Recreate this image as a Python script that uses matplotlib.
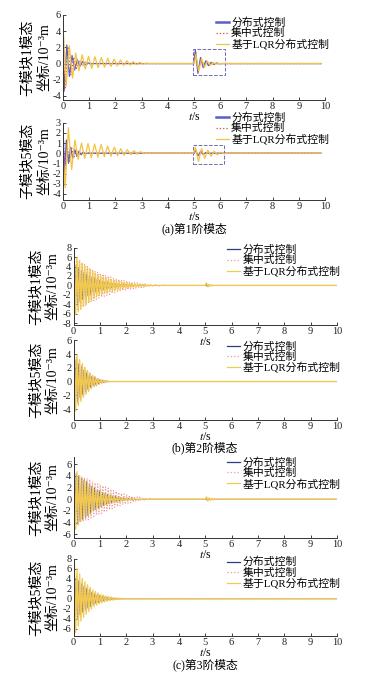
import numpy as np
import matplotlib
matplotlib.use('Agg')
import matplotlib.pyplot as plt
from matplotlib.patches import Rectangle

plt.rcParams['font.family'] = ['Liberation Serif', 'Noto Sans CJK SC', 'DejaVu Serif']
plt.rcParams['mathtext.fontset'] = 'stix'
plt.rcParams['axes.unicode_minus'] = False

LABELS = ['分布式控制', '集中式控制', '基于LQR分布式控制']
CAPTIONS = ['(a)第1阶模态', '(b)第2阶模态', '(c)第3阶模态']
YLABELS = ['子模块1模态\n坐标/10⁻³m', '子模块5模态\n坐标/10⁻³m']
XTICKS = list(range(0, 11))

# ---- mode 1: signed peak values (start value, first peak time, half period, peaks)
A1_BLUE = [1.0, 0.045, 0.10, [-3.4, 2.3, -1.6, 1.0, -0.8, 0.5, -0.35, 0.25, -0.15, 0.1, -0.05]]
A1_RED = [2.0, 0.08, 0.11, [-3.0, 2.1, -1.4, 0.8, -0.6, 0.4, -0.3, 0.2, -0.12, 0.08, -0.04]]
A1_YEL = [4.8, 0.12, 0.122, [-2.8, 2.2, -1.8, 1.3, -0.9, 1.1, -0.7, 0.9, -0.6, 0.85, -0.5, 0.75,
                             -0.45, 0.65, -0.35, 0.55, -0.3, 0.45, -0.25, 0.35, -0.2, 0.25,
                             -0.15, 0.15, -0.08, 0.05]]
A1_BLUE_D = [5.05, 0.10, [1.7, -1.2, 0.75, -0.5, 0.35, -0.25, 0.15, -0.1, 0.06, -0.03]]
A1_RED_D = [5.06, 0.105, [1.4, -1.0, 0.6, -0.45, 0.3, -0.2, 0.12, -0.08, 0.04]]
A1_YEL_D = [5.07, 0.11, [1.1, -0.9, 0.6, -0.45, 0.3, -0.2, 0.12, -0.06]]

A2_BLUE = [3.0, 0.05, 0.08, [-2.1, 1.3, -1.0, 0.6, -0.5, 0.35, -0.3, 0.2, -0.15, 0.1, -0.05]]
A2_RED = [2.5, 0.06, 0.09, [-1.8, 1.1, -0.8, 0.5, -0.4, 0.25, -0.2, 0.1, -0.05]]
A2_YEL = [0.0, 0.08, 0.125, [-3.4, 2.5, -1.6, 1.3, -0.6, 1.0, -0.5, 0.95, -0.45, 0.9, -0.4, 0.85,
                             -0.35, 0.7, -0.3, 0.6, -0.25, 0.45, -0.2, 0.35, -0.15, 0.25,
                             -0.1, 0.15, -0.05]]
A2_BLUE_D = [5.05, 0.10, [0.3, -0.25, 0.15, -0.1, 0.05]]
A2_RED_D = [5.06, 0.10, [0.35, -0.3, 0.2, -0.12, 0.06]]
A2_YEL_D = [5.05, 0.12, [0.6, -0.8, 0.45, -0.5, 0.3, -0.3, 0.2, -0.15, 0.1, -0.05]]

A1_BOX = [4.95, 6.2, -1.4, 1.85]
A2_BOX = [4.95, 6.15, -1.05, 0.8]

# ---- modes 2 and 3: peak magnitudes every half period (0.05 s), signs alternate
B1_BLUE = [5.0, 4.7, 4.4, 4.1, 3.8, 3.5, 3.2, 3.0, 2.8, 2.6, 2.4, 2.2, 2.0, 1.85, 1.7, 1.6, 1.5,
           1.4, 1.3, 1.2, 1.1, 1.0, 0.9, 0.85, 0.8, 0.7, 0.65, 0.6, 0.55, 0.5, 0.45, 0.4, 0.37,
           0.33, 0.3, 0.27, 0.25, 0.22, 0.2, 0.18, 0.16, 0.14, 0.12, 0.1, 0.08, 0.06, 0.05,
           0.04, 0.03]
B1_RED = [6.0, 5.8, 5.6, 5.4, 5.2, 5.0, 4.8, 4.6, 4.4, 4.2, 4.0, 3.85, 3.7, 3.55, 3.4, 3.25, 3.1,
          2.95, 2.8, 2.7, 2.6, 2.5, 2.4, 2.3, 2.2, 2.1, 2.0, 1.9, 1.8, 1.7, 1.6, 1.55, 1.45, 1.4,
          1.3, 1.25, 1.2, 1.1, 1.05, 1.0, 1.0, 0.9, 0.85, 0.8, 0.75, 0.7, 0.65, 0.6, 0.55, 0.5,
          0.5, 0.45, 0.42, 0.4, 0.37, 0.34, 0.31, 0.29, 0.27, 0.25, 0.23, 0.21, 0.19, 0.17,
          0.15, 0.14, 0.13, 0.12, 0.11, 0.1]
B1_YEL = [6.5, 6.2, 5.9, 5.6, 5.3, 5.0, 4.7, 4.4, 4.2, 4.0, 3.8, 3.6, 3.4, 3.2, 3.0, 2.8, 2.6,
          2.45, 2.3, 2.15, 2.0, 1.9, 1.8, 1.7, 1.6, 1.5, 1.4, 1.3, 1.25, 1.15, 1.1, 1.0, 0.95,
          0.9, 0.85, 0.8, 0.7, 0.65, 0.6, 0.58, 0.55, 0.5, 0.46, 0.43, 0.4, 0.37, 0.34, 0.31,
          0.28, 0.26, 0.25, 0.22, 0.2, 0.18, 0.16, 0.15, 0.13, 0.12, 0.11, 0.1]
B1_BLUE_D = [0.3, 0.2, 0.1, 0.05]
B1_RED_D = [0.3, 0.2, 0.1, 0.05]
B1_YEL_D = [0.5, 0.3, 0.2, 0.15, 0.1, 0.05]

B2_BLUE = [3.8, 3.5, 3.2, 2.9, 2.6, 2.35, 2.1, 1.9, 1.7, 1.5, 1.3, 1.15, 1.0, 0.9, 0.75, 0.65,
           0.55, 0.45, 0.38, 0.32, 0.27, 0.22, 0.18, 0.14, 0.11, 0.08, 0.06, 0.04, 0.03]
B2_RED = [4.2, 3.9, 3.6, 3.3, 3.0, 2.7, 2.45, 2.2, 2.0, 1.8, 1.6, 1.4, 1.25, 1.1, 0.95, 0.8,
          0.7, 0.6, 0.5, 0.42, 0.35, 0.3, 0.25, 0.2, 0.15, 0.12, 0.09, 0.06, 0.04, 0.02]
B2_YEL = [4.6, 4.3, 3.9, 3.5, 3.2, 2.9, 2.6, 2.3, 2.05, 1.8, 1.6, 1.4, 1.2, 1.05, 0.9, 0.75,
          0.62, 0.5, 0.42, 0.34, 0.28, 0.22, 0.18, 0.14, 0.1, 0.07, 0.05, 0.03]

C1_BLUE = [4.8, 4.6, 4.4, 4.2, 4.0, 3.8, 3.6, 3.4, 3.3, 3.1, 3.0, 2.8, 2.6, 2.4, 2.2, 2.0, 1.9,
           1.75, 1.6, 1.55, 1.5, 1.35, 1.2, 1.1, 1.0, 0.9, 0.8, 0.75, 0.7, 0.65, 0.6, 0.52,
           0.46, 0.4, 0.35, 0.3, 0.27, 0.24, 0.22, 0.2, 0.17, 0.15, 0.13, 0.11, 0.09, 0.07,
           0.05, 0.04]
C1_RED = [4.5, 4.4, 4.3, 4.2, 4.1, 4.0, 3.9, 3.8, 3.7, 3.65, 3.6, 3.5, 3.4, 3.2, 3.0, 2.9, 2.8,
          2.7, 2.6, 2.55, 2.5, 2.4, 2.3, 2.2, 2.1, 2.0, 1.9, 1.8, 1.7, 1.6, 1.5, 1.4, 1.35,
          1.25, 1.2, 1.1, 1.0, 0.95, 0.9, 0.85, 0.8, 0.7, 0.65, 0.6, 0.55, 0.5, 0.45, 0.42,
          0.39, 0.37, 0.35, 0.3, 0.27, 0.24, 0.21, 0.19, 0.17, 0.15, 0.13, 0.12]
C1_YEL = [5.5, 5.1, 4.7, 4.4, 4.0, 3.7, 3.5, 3.2, 3.0, 2.9, 2.8, 2.6, 2.4, 2.2, 2.0, 1.9, 1.7,
          1.6, 1.45, 1.35, 1.3, 1.2, 1.1, 1.0, 0.9, 0.85, 0.8, 0.7, 0.65, 0.6, 0.55, 0.5, 0.45,
          0.4, 0.35, 0.3, 0.27, 0.24, 0.22, 0.2, 0.17, 0.15, 0.12, 0.1, 0.08, 0.06, 0.05]
C1_BLUE_D = [0.2, 0.15, 0.1, 0.05]
C1_RED_D = [0.2, 0.15, 0.1, 0.05]
C1_YEL_D = [0.4, 0.3, 0.25, 0.2, 0.15, 0.1, 0.08, 0.05, 0.03]

C2_BLUE = [5.0, 4.6, 4.2, 3.9, 3.6, 3.3, 3.0, 2.7, 2.5, 2.3, 2.1, 1.9, 1.7, 1.5, 1.35, 1.2,
           1.05, 0.95, 0.85, 0.75, 0.65, 0.57, 0.5, 0.44, 0.38, 0.33, 0.28, 0.24, 0.2, 0.17,
           0.14, 0.11, 0.09, 0.07, 0.05, 0.03]
C2_RED = [5.5, 5.0, 4.6, 4.2, 3.9, 3.6, 3.3, 3.0, 2.7, 2.5, 2.3, 2.1, 1.9, 1.7, 1.5, 1.35, 1.2,
          1.05, 0.95, 0.85, 0.75, 0.65, 0.57, 0.5, 0.44, 0.38, 0.33, 0.28, 0.24, 0.2, 0.17,
          0.14, 0.11, 0.09, 0.07, 0.05, 0.03]
C2_YEL = [7.5, 6.8, 6.1, 5.5, 5.0, 4.5, 4.1, 3.7, 3.4, 3.1, 2.8, 2.55, 2.3, 2.05, 1.8, 1.6,
          1.45, 1.3, 1.15, 1.0, 0.9, 0.8, 0.72, 0.64, 0.56, 0.5, 0.44, 0.38, 0.33, 0.29, 0.25,
          0.21, 0.18, 0.15, 0.12, 0.1, 0.08, 0.06, 0.04, 0.03]

HALF_HF = 0.05


def ring(t_first, half, peaks, start=None):
    t = t_first + half * np.arange(len(peaks))
    y = np.asarray(peaks, float)
    if start is not None:
        t = np.r_[start[0], t]
        y = np.r_[start[1], y]
    return np.r_[t, t[-1] + half], np.r_[y, 0.0]


def alternate(mags):
    return np.resize([1.0, -1.0], len(mags)) * np.asarray(mags, float)


def join(segs, t_end):
    t = np.concatenate([s[0] for s in segs] + [[t_end]])
    y = np.concatenate([s[1] for s in segs] + [[0.0]])
    return t, y


def mode1(main, dist, t_end=9.85):
    start, t_first, half, peaks = main
    d_first, d_half, d_peaks = dist
    return join([ring(t_first, half, peaks, start=(0.0, start)),
                 ring(d_first, d_half, d_peaks, start=(d_first - d_half / 2, 0.0))], t_end)


def modehf(mags, offset, dist=None, t_end=10.0):
    segs = [ring(offset, HALF_HF, alternate(mags))]
    if dist is not None:
        segs.append(ring(5.02 + offset, HALF_HF, alternate(dist), start=(5.0, 0.0)))
    return join(segs, t_end)


W, H = 387, 684
fig = plt.figure(figsize=(W / 100, H / 100), dpi=100)


def make_axes(l, t, r, b):
    ax = fig.add_axes([l / W, 1 - b / H, (r - l) / W, (b - t) / H])
    ax.patch.set_visible(False)
    return ax


def style(ax, ylim, yticks, ylabel, label_x, legend_xy):
    ax.set_xlim(0, 10)
    ax.set_ylim(*ylim)
    ax.set_xticks(XTICKS)
    ax.set_yticks(yticks)
    for s in ['top', 'right']:
        ax.spines[s].set_visible(False)
    for s in ['left', 'bottom']:
        ax.spines[s].set_linewidth(0.7)
        ax.spines[s].set_color('#333333')
    ax.tick_params(direction='in', length=2.5, width=0.6, labelsize=7.5, pad=1.5,
                   colors='#222222')
    ax.set_xlabel('$t$/s', fontsize=8.5, labelpad=0)
    ax.set_ylabel(ylabel, fontsize=10, linespacing=1.4)
    ax.yaxis.set_label_coords(label_x, 0.5)
    ax.legend(loc='upper left', bbox_to_anchor=legend_xy, frameon=False,
              fontsize=7.8, handlelength=1.2, handletextpad=0.2, labelspacing=0.0,
              borderaxespad=0.0, borderpad=0.0)


# mode 1 colours
M1 = ['#5b5fc7', '#c0504d', '#f3c443']
# modes 2, 3 colours
MH = ['#2a3a88', '#ec9a9a', '#f2c94f']

# (a) mode 1
ax = make_axes(63, 15, 325, 100)
for (main, dist), c, ls, lab in zip([(A1_BLUE, A1_BLUE_D), (A1_RED, A1_RED_D), (A1_YEL, A1_YEL_D)],
                                   M1, ['-', ':', '-'], LABELS):
    t, y = mode1(main, dist)
    ax.plot(t, y, color=c, ls=ls, lw=0.9, label=lab)
ax.add_patch(Rectangle((A1_BOX[0], A1_BOX[2]), A1_BOX[1] - A1_BOX[0], A1_BOX[3] - A1_BOX[2],
                       fill=False, ec='#6c6cb4', ls='--', lw=0.7))
style(ax, (-4.5, 6), range(-4, 7, 2), YLABELS[0], -0.045, (0.584, 0.97))
ax.get_legend().legend_handles[0].set_linewidth(1.8)

ax = make_axes(63, 122.7, 325, 200)
for (main, dist), c, ls, lab in zip([(A2_BLUE, A2_BLUE_D), (A2_RED, A2_RED_D), (A2_YEL, A2_YEL_D)],
                                   M1, ['-', ':', '-'], LABELS):
    t, y = mode1(main, dist)
    ax.plot(t, y, color=c, ls=ls, lw=0.9, label=lab)
ax.add_patch(Rectangle((A2_BOX[0], A2_BOX[2]), A2_BOX[1] - A2_BOX[0], A2_BOX[3] - A2_BOX[2],
                       fill=False, ec='#6c6cb4', ls='--', lw=0.7))
style(ax, (-4.6, 3), range(-4, 4), YLABELS[1], -0.045, (0.584, 1.13))
ax.get_legend().legend_handles[0].set_linewidth(1.8)
fig.text(194 / W, 1 - 229 / H, CAPTIONS[0], ha='center', va='center', fontsize=8.5)

# (b) mode 2, (c) mode 3
hf_panels = [
    ((73.5, 247.7, 337, 325), (-8.4, 8), range(-8, 9, 2), YLABELS[0], 1.04,
     [(B1_BLUE, B1_BLUE_D), (B1_RED, B1_RED_D), (B1_YEL, B1_YEL_D)]),
    ((73.5, 340.3, 337, 420), (-5.6, 6), range(-4, 7, 2), YLABELS[1], 0.99,
     [(B2_BLUE, None), (B2_RED, None), (B2_YEL, None)]),
    ((73.5, 457, 337, 538), (-6.6, 7.2), range(-6, 7, 2), YLABELS[0], 0.995,
     [(C1_BLUE, C1_BLUE_D), (C1_RED, C1_RED_D), (C1_YEL, C1_YEL_D)]),
    ((73.5, 559, 337, 636), (-7.5, 8), range(-6, 9, 2), YLABELS[1], 1.03,
     [(C2_BLUE, None), (C2_RED, None), (C2_YEL, None)]),
]
offsets = [0.0, 0.017, 0.033]
widths = [0.55, 0.8, 0.95]
for rect, ylim, yt, ylab, leg_y, series in hf_panels:
    ax = make_axes(*rect)
    for (mags, dist), c, ls, off, lw, lab in zip(series, MH, ['-', ':', '-'], offsets, widths, LABELS):
        t, y = modehf(mags, off, dist)
        ax.plot(t, y, color=c, ls=ls, lw=lw, label=lab)
    style(ax, ylim, yt, ylab, -0.052, (0.583, leg_y))
    for h in ax.get_legend().legend_handles:
        h.set_linewidth(0.9)

fig.text(205 / W, 1 - 448 / H, CAPTIONS[1], ha='center', va='center', fontsize=8.5)
fig.text(205 / W, 1 - 665 / H, CAPTIONS[2], ha='center', va='center', fontsize=8.5)

fig.savefig('out.png', dpi=100)
